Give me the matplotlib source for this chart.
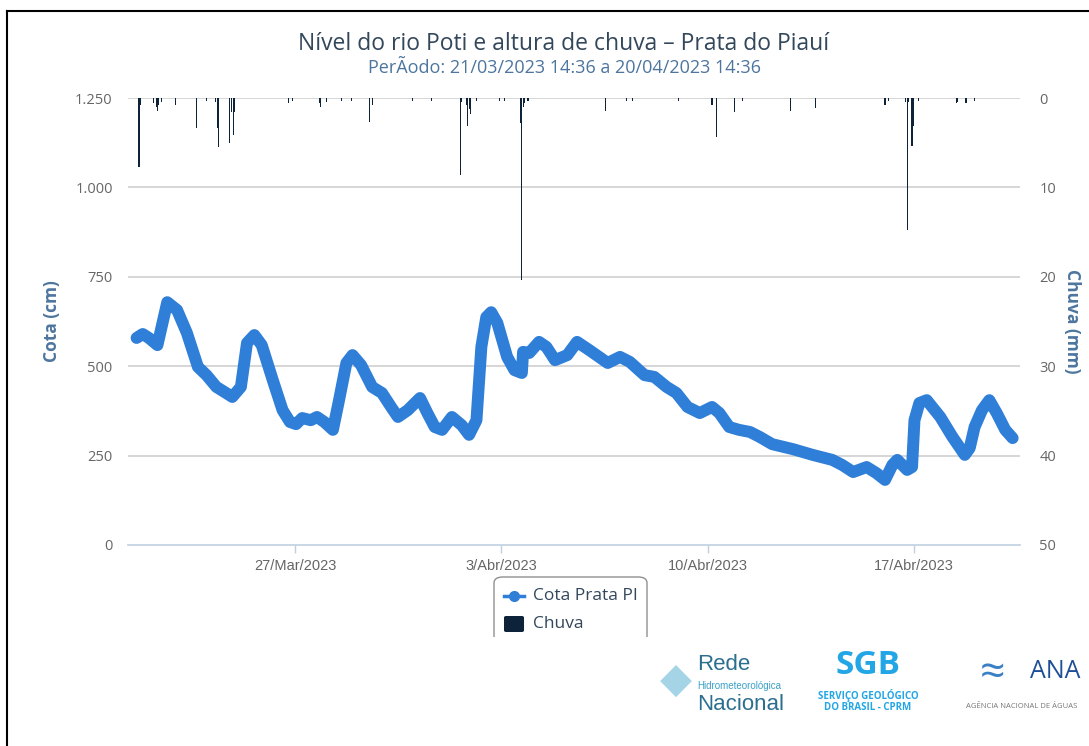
import matplotlib
matplotlib.use("Agg")
import matplotlib.pyplot as plt
from matplotlib.patches import FancyBboxPatch, Rectangle
from matplotlib.lines import Line2D
import pandas as pd

# ---------------- data ----------------
start_time = "2023-03-21 14:36"
end_time = "2023-04-20 14:36"

cota_hours = [0, 5, 10, 17, 25, 33, 41, 50, 57, 65, 73, 78, 85, 90, 96, 102, 111, 119, 125, 130,
              135, 142, 147, 153, 160, 165, 171, 176, 183, 192, 200, 208, 213, 221, 231, 237, 243, 249, 257, 265,
              271, 277, 281, 285, 289, 294, 302, 308, 314, 315, 320, 328, 334, 341, 351, 359, 369, 384, 394, 402,
              414, 422, 432, 440, 449, 459, 469, 475, 483, 491, 500, 508, 518, 535, 551, 567, 575, 584, 595, 603,
              610, 616, 620, 628, 632, 634, 638, 644, 655, 665, 675, 679, 683, 689, 695, 701, 708, 714]
cota_cm = [579, 590, 579, 559, 679, 657, 593, 498, 475, 442, 425, 414, 442, 565, 587, 559, 461, 377, 344, 338,
           355, 349, 358, 344, 322, 405, 509, 531, 503, 442, 425, 383, 358, 377, 411, 369, 330, 322, 358, 335,
           308, 349, 554, 637, 651, 621, 526, 489, 481, 540, 537, 568, 554, 517, 531, 568, 545, 509, 526, 512,
           475, 470, 442, 425, 386, 369, 386, 369, 330, 322, 316, 302, 282, 268, 252, 238, 224, 204, 218, 201,
           182, 224, 238, 210, 218, 349, 397, 405, 358, 302, 252, 271, 330, 377, 405, 369, 322, 299]

chuva_hours = [2, 3, 14, 16, 17, 18, 20, 32, 49, 57, 64, 66, 67, 76, 77, 79, 80, 124, 127, 149,
               150, 155, 167, 175, 190, 192, 225, 240, 264, 265, 269, 270, 271, 272, 277, 296, 300, 313, 314, 315,
               316, 319, 382, 399, 404, 442, 469, 473, 487, 494, 533, 553, 610, 613, 627, 628, 629, 632, 633, 637,
               668, 669, 676, 683]
chuva_mm = [7.7, 0.8, 0.6, 1.0, 1.4, 0.8, 0.5, 0.8, 3.4, 0.3, 0.5, 3.3, 5.5, 5.0, 1.6, 4.1, 1.6, 0.6, 0.3, 0.6,
            1.0, 0.5, 0.3, 0.3, 2.7, 0.8, 0.3, 0.3, 8.6, 0.5, 0.8, 3.1, 1.2, 1.8, 0.3, 0.3, 0.3, 2.8, 20.4, 1.0,
            0.6, 0.3, 1.5, 0.3, 0.3, 0.3, 0.8, 4.4, 1.6, 0.3, 1.4, 1.1, 0.8, 0.3, 0.4, 14.8, 0.4, 5.4, 3.1, 0.3,
            0.6, 0.4, 0.6, 0.3]

x_tick_dates = ["2023-03-27", "2023-04-03", "2023-04-10", "2023-04-17"]
x_tick_labels = ["27/Mar/2023", "3/Abr/2023", "10/Abr/2023", "17/Abr/2023"]
left_ticks = [0, 250, 500, 750, 1000, 1250]
left_tick_labels = ["0", "250", "500", "750", "1.000", "1.250"]
right_ticks = [0, 10, 20, 30, 40, 50]

title = "Nível do rio Poti e altura de chuva – Prata do Piauí"
subtitle = "PerÃodo: 21/03/2023 14:36 a 20/04/2023 14:36"
series_names = ["Cota Prata PI", "Chuva"]

# ---------------- styling ----------------
BLUE = "#2f7ed8"
DARK = "#0d233a"
TITLE_C = "#33475b"
SUB_C = "#4d759e"
LABEL_C = "#666666"
FONT = ["Open Sans", "DejaVu Sans"]
NARROW = ["Liberation Sans Narrow", "Liberation Sans", "DejaVu Sans"]
plt.rcParams["font.family"] = FONT

t0 = pd.Timestamp(start_time)
t_end = pd.Timestamp(end_time)
cota_t = [t0 + pd.Timedelta(hours=h) for h in cota_hours]
chuva_t = [t0 + pd.Timedelta(hours=h) for h in chuva_hours]

W, H = 1089, 746
fig = plt.figure(figsize=(W / 100, H / 100), dpi=100)
fig.patch.set_facecolor("white")

ax = fig.add_axes([128 / W, 1 - 545 / H, (1020 - 128) / W, (545 - 98) / H])
ax2 = ax.twinx()

# grid
for v in left_ticks[1:]:
    ax.axhline(v, color="#d0d0d0", lw=1.2, zorder=0)

ax.plot(cota_t, cota_cm, color=BLUE, lw=8.6, solid_capstyle="round",
        solid_joinstyle="round", zorder=3)

bar_w = pd.Timedelta(hours=0.9)
ax2.bar(chuva_t, chuva_mm, width=bar_w, bottom=0, color=DARK, align="center", zorder=2)

ax.set_ylim(0, 1250)
ax2.set_ylim(50, 0)
ax.set_xlim(t0 - pd.Timedelta(hours=7), t_end)

ax.set_yticks(left_ticks)
ax.set_yticklabels(left_tick_labels)
ax2.set_yticks(right_ticks)
ax2.set_yticklabels([str(v) for v in right_ticks])

ax.set_xticks([pd.Timestamp(d) for d in x_tick_dates])
ax.set_xticklabels(x_tick_labels, family=NARROW, fontsize=10.5, color=LABEL_C)

for a in (ax, ax2):
    for s in a.spines.values():
        s.set_visible(False)
ax.spines["bottom"].set_visible(True)
ax.spines["bottom"].set_color("#c0d0e0")
ax.spines["bottom"].set_linewidth(1.2)

ax.tick_params(axis="x", length=6, width=1, color="#c0d0e0", pad=4)
ax.tick_params(axis="y", length=0, pad=11, labelsize=10.5, labelcolor=LABEL_C)
ax2.tick_params(axis="y", length=0, pad=14, labelsize=10.5, labelcolor=LABEL_C)
for lab in ax.get_yticklabels() + ax2.get_yticklabels():
    lab.set_color(LABEL_C)

ax.set_ylabel("Cota (cm)", color=SUB_C, fontsize=12.5, fontweight="bold", labelpad=10)
ax2.set_ylabel("Chuva (mm)", color=SUB_C, fontsize=12.5, fontweight="bold",
               rotation=270, labelpad=18)

# titles
fig.text(564 / W, 1 - 44 / H, title, ha="center", va="center", fontsize=16.5, color=TITLE_C)
fig.text(564 / W, 1 - 68 / H, subtitle, ha="center", va="center", fontsize=13, color=SUB_C)

# legend (manual, box clipped at bottom like reference)
box = FancyBboxPatch((494 / W, 1 - 660 / H), (647 - 494) / W, (660 - 577) / H,
                     boxstyle="round,pad=0,rounding_size=0.008", transform=fig.transFigure,
                     facecolor="white", edgecolor="#909090", lw=1.0)
fig.add_artist(box)
fig.add_artist(Rectangle((488 / W, 1 - 680 / H), 165 / W, (680 - 637) / H,
                         transform=fig.transFigure, facecolor="white", edgecolor="none"))
fig.add_artist(Line2D([504 / W, 524 / W], [1 - 596 / H] * 2, color=BLUE, lw=2.5,
                      transform=fig.transFigure))
fig.add_artist(Line2D([514 / W], [1 - 596 / H], color=BLUE, marker="o", markersize=7,
                      transform=fig.transFigure))
fig.text(533 / W, 1 - 596 / H, series_names[0], ha="left", va="center", fontsize=12.5, color=TITLE_C)
fig.add_artist(FancyBboxPatch((504 / W, 1 - 632 / H), 20 / W, 16 / H,
                              boxstyle="round,pad=0,rounding_size=0.002", transform=fig.transFigure,
                              facecolor=DARK, edgecolor="none"))
fig.text(533 / W, 1 - 624 / H, series_names[1], ha="left", va="center", fontsize=12.5, color=TITLE_C)

# logos (as text)
fig.text(697 / W, 1 - 665 / H, "Rede", ha="left", va="center", fontsize=16,
         family=NARROW, color="#2b6f8f")
fig.text(697 / W, 1 - 686 / H, "Hidrometeorológica", ha="left", va="center", fontsize=7,
         family=NARROW, color="#3aa0c8")
fig.text(697 / W, 1 - 704 / H, "Nacional", ha="left", va="center", fontsize=16,
         family=NARROW, color="#2b6f8f")
fig.text(660 / W, 1 - 682 / H, "◆", ha="left", va="center", fontsize=30, color="#7fc3dd", alpha=0.7)
fig.text(868 / W, 1 - 666 / H, "SGB", ha="center", va="center", fontsize=24, fontweight="bold",
         color="#23a6e6")
fig.text(868 / W, 1 - 695 / H, "SERVIÇO GEOLÓGICO", ha="center", va="center", fontsize=7,
         fontweight="bold", color="#23a6e6")
fig.text(868 / W, 1 - 708 / H, "DO BRASIL - CPRM", ha="center", va="center", fontsize=7,
         fontweight="bold", color="#23a6e6")
fig.text(1055 / W, 1 - 672 / H, "ANA", ha="center", va="center", fontsize=18, color="#1f4e99")
fig.text(1022 / W, 1 - 707 / H, "AGÊNCIA NACIONAL DE ÁGUAS", ha="center", va="center",
         fontsize=5.5, color="#777777")
fig.text(993 / W, 1 - 675 / H, "≈", ha="center", va="center", fontsize=32, color="#3b7fc4")

# outer border lines
fig.add_artist(Line2D([7 / W, 1.0], [1 - 11 / H] * 2, color="black", lw=1.5, transform=fig.transFigure))
fig.add_artist(Line2D([7 / W] * 2, [0, 1 - 11 / H], color="black", lw=1.5, transform=fig.transFigure))

fig.savefig("out.png", dpi=100, facecolor="white")
